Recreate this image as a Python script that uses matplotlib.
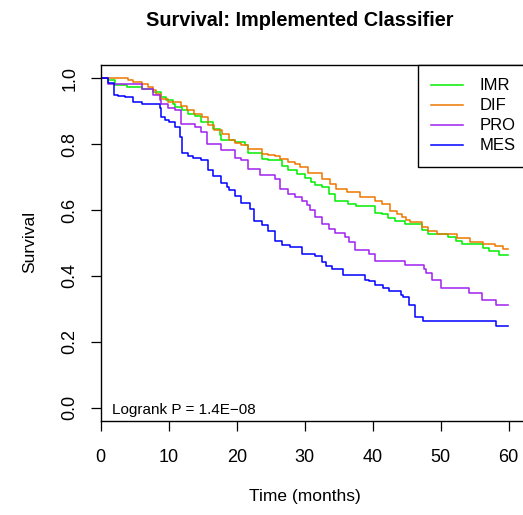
import numpy as np
import matplotlib
matplotlib.use("Agg")
import matplotlib.pyplot as plt

plt.rcParams['font.family'] = ['Liberation Sans', 'DejaVu Sans']

# step-function survival curves (time in months, survival)
imr_t = [0, 1.1, 2.1, 3.8, 6.0, 7.7, 8.9, 9.6, 10.6, 10.9, 11.9, 12.8, 13.8, 14.8, 16.5,
         17.5, 17.7, 19.7, 21.2, 21.7, 23.7, 24.6, 26.6, 27.6, 28.8, 30.0, 30.9, 31.5,
         32.5, 33.5, 34.5, 36.4, 37.5, 40.3, 41.3, 42.3, 43.3, 44.7, 47.2, 48.2, 51.1,
         52.2, 53.1, 56.2, 57.1, 58.5]
imr_s = [1.0, 0.993, 0.978, 0.973, 0.968, 0.957, 0.943, 0.933, 0.922, 0.912, 0.902, 0.892,
         0.884, 0.866, 0.846, 0.829, 0.811, 0.806, 0.796, 0.773, 0.756, 0.751, 0.733, 0.72,
         0.708, 0.698, 0.685, 0.675, 0.67, 0.648, 0.627, 0.617, 0.611, 0.591, 0.589, 0.576,
         0.567, 0.559, 0.539, 0.528, 0.518, 0.506, 0.498, 0.486, 0.476, 0.463]

dif_t = [0, 4.0, 4.75, 6.1, 6.9, 7.7, 8.2, 8.9, 9.9, 11.8, 12.7, 13.7, 14.9, 15.8, 16.7,
         17.9, 18.8, 19.8, 20.7, 21.6, 23.7, 24.6, 25.6, 26.4, 27.6, 28.6, 29.3, 30.5,
         32.5, 33.7, 34.6, 36.2, 38.1, 40.3, 41.3, 42.5, 43.5, 44.3, 44.9, 45.5, 47.2,
         48.2, 49.4, 52.4, 54.3, 56.2, 58.0, 59.2]
dif_s = [1.0, 0.995, 0.988, 0.981, 0.973, 0.965, 0.952, 0.937, 0.927, 0.917, 0.902, 0.892,
         0.882, 0.857, 0.842, 0.831, 0.811, 0.803, 0.796, 0.786, 0.77, 0.768, 0.764, 0.755,
         0.746, 0.74, 0.73, 0.712, 0.695, 0.68, 0.665, 0.655, 0.64, 0.627, 0.617, 0.597,
         0.587, 0.579, 0.569, 0.564, 0.548, 0.536, 0.528, 0.516, 0.503, 0.498, 0.49, 0.483]

pro_t = [0, 1.1, 6.0, 7.7, 8.7, 8.9, 9.9, 10.9, 11.8, 13.8, 14.8, 15.7, 17.7, 19.7, 20.7,
         21.7, 23.4, 25.6, 26.4, 27.6, 28.6, 29.6, 30.3, 30.8, 31.5, 32.5, 33.5, 34.5,
         35.9, 36.5, 37.4, 39.4, 40.3, 44.7, 47.5, 47.9, 48.7, 50.1, 54.1, 56.0, 58.2]
pro_s = [1.0, 0.983, 0.966, 0.948, 0.934, 0.922, 0.909, 0.902, 0.862, 0.852, 0.836, 0.799,
         0.781, 0.759, 0.751, 0.725, 0.705, 0.695, 0.665, 0.648, 0.639, 0.627, 0.614, 0.601,
         0.579, 0.557, 0.541, 0.53, 0.518, 0.503, 0.478, 0.468, 0.445, 0.434, 0.422, 0.409,
         0.387, 0.362, 0.347, 0.326, 0.311]

mes_t = [0, 1.1, 1.9, 2.5, 3.6, 4.75, 6.0, 8.7, 8.9, 9.4, 10.1, 10.9, 11.6, 11.9, 12.8,
         13.6, 14.8, 15.8, 16.5, 17.7, 18.5, 18.8, 19.7, 20.7, 21.9, 22.6, 23.7, 24.6,
         25.6, 26.6, 27.8, 29.6, 31.5, 32.5, 33.1, 34.0, 35.6, 38.9, 39.4, 40.3, 41.5,
         42.4, 44.1, 44.4, 45.4, 46.2, 47.4, 58.1]
mes_s = [1.0, 0.986, 0.95, 0.947, 0.944, 0.927, 0.922, 0.91, 0.882, 0.874, 0.867, 0.851,
         0.823, 0.773, 0.763, 0.758, 0.753, 0.72, 0.702, 0.682, 0.67, 0.662, 0.643, 0.621,
         0.604, 0.567, 0.554, 0.536, 0.505, 0.493, 0.488, 0.468, 0.46, 0.442, 0.429, 0.422,
         0.402, 0.389, 0.384, 0.372, 0.364, 0.354, 0.342, 0.335, 0.311, 0.276, 0.264, 0.248]

groups = ['IMR', 'DIF', 'PRO', 'MES']
colors = ['#00EE00', '#EE7600', '#A020F0', '#0000FF']
t_end = 59.9

W, H = 523, 515
fig = plt.figure(figsize=(W / 100, H / 100), dpi=100)
# axes box in pixels: left 101, right ~529 (off canvas), top 65, bottom 421
x0, x1, y0, y1 = 100.7, 529.1, 421.0, 65.0
ax = fig.add_axes([x0 / W, 1 - y0 / H, (x1 - x0) / W, (y0 - y1) / H])

for name, t, s, c in zip(groups, [imr_t, dif_t, pro_t, mes_t],
                         [imr_s, dif_s, pro_s, mes_s], colors):
    tt = list(t) + [t_end]
    ss = list(s) + [s[-1]]
    ax.step(tt, ss, where='post', color=c, lw=1.1, label=name)

ax.set_xlim(0, 63)
ax.set_ylim(-0.04, 1.04)
ax.set_xticks([0, 10, 20, 30, 40, 50, 60])
ax.set_yticks([0.0, 0.2, 0.4, 0.6, 0.8, 1.0])
ax.set_yticklabels(['0.0', '0.2', '0.4', '0.6', '0.8', '1.0'], rotation=90, va='center')
ax.tick_params(axis='both', direction='out', length=7.2, width=0.9, labelsize=13,
               color='black', pad=9)
ax.tick_params(axis='x', pad=13)
for sp in ax.spines.values():
    sp.set_linewidth(1.0)
    sp.set_color('black')

ax.text(1.6, -0.006, 'Logrank P = 1.4E\u221208', fontsize=11, va='center', ha='left')

leg = ax.legend(loc='upper right', bbox_to_anchor=(1.0, 1.0), frameon=True,
                fancybox=False, framealpha=1, edgecolor='black', fontsize=12,
                handlelength=1.9, handletextpad=1.0, labelspacing=0.3,
                borderpad=0.8, borderaxespad=0)
leg.get_frame().set_linewidth(1.0)

fig.text(300 / W, 1 - 20 / H, 'Survival: Implemented Classifier', fontsize=14.3,
         fontweight='bold', ha='center', va='center')
fig.text(305 / W, 1 - 497 / H, 'Time (months)', fontsize=12.5, ha='center', va='center')
fig.text(30 / W, 1 - 242 / H, 'Survival', fontsize=12.5, ha='center', va='center',
         rotation=90)

fig.savefig('out.png', dpi=100)
